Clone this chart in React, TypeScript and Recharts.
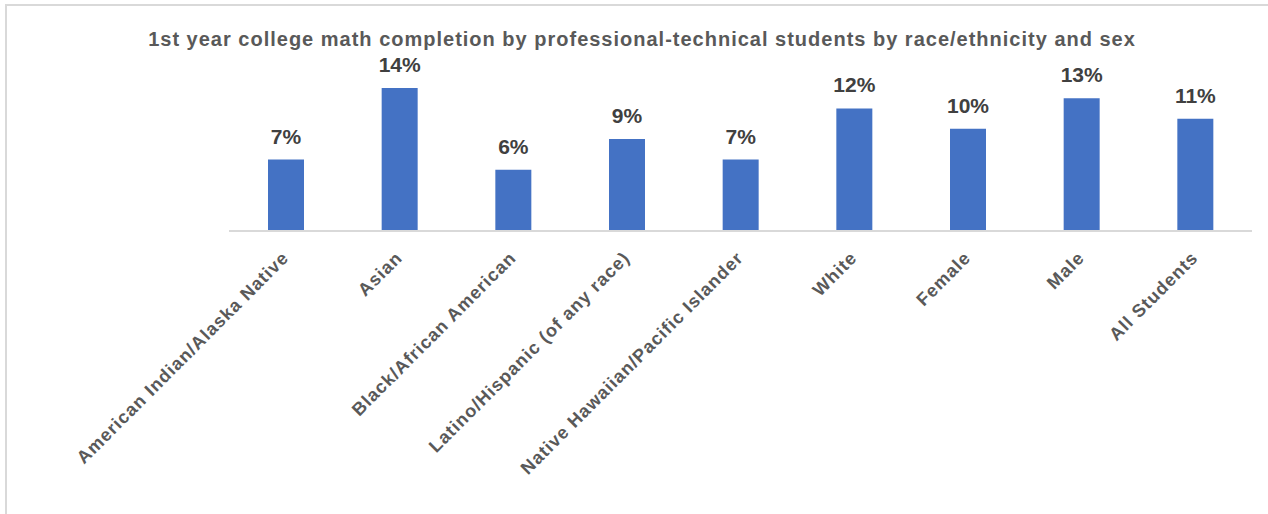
import React from 'react';
import { BarChart, Bar, XAxis, YAxis, LabelList } from 'recharts';

const categories = [
  'American Indian/Alaska Native',
  'Asian',
  'Black/African American',
  'Latino/Hispanic (of any race)',
  'Native Hawaiian/Pacific Islander',
  'White',
  'Female',
  'Male',
  'All Students',
];
const completion = [7, 14, 6, 9, 7, 12, 10, 13, 11];
const titleText =
  '1st year college math completion by professional-technical students by race/ethnicity and sex';

const data = categories.map((c, i) => ({ name: c, value: completion[i] }));

const FONT = '"Liberation Sans", Arial, sans-serif';

const Tick = (props: any) => {
  const { x, y, payload } = props;
  return (
    <g transform={`translate(${x + 4},${y + 20})`}>
      <text
        transform="rotate(-45)"
        textAnchor="end"
        fill="#595959"
        fontFamily={FONT}
        fontWeight="bold"
        fontSize={18}
        letterSpacing={1}
      >
        {payload.value}
      </text>
    </g>
  );
};

export default function App() {
  return (
    <div style={{ position: 'absolute', left: 0, top: 0, width: 1268, height: 514, overflow: 'hidden', background: '#fff' }}>
      <div
        style={{
          position: 'absolute',
          left: 5,
          top: 4,
          width: 1400,
          height: 700,
          border: '2px solid #d9d9d9',
        }}
      />
      <div
        style={{
          position: 'absolute',
          left: 0,
          top: 28,
          width: 1284,
          textAlign: 'center',
          fontFamily: FONT,
          fontWeight: 'bold',
          fontSize: 20,
          letterSpacing: 1,
          color: '#595959',
          whiteSpace: 'nowrap',
        }}
      >
        {titleText}
      </div>
      <div style={{ position: 'absolute', left: 0, top: 0 }}>
        <BarChart
          width={1268}
          height={514}
          data={data}
          margin={{ top: 88, right: 16, bottom: 0, left: 229 }}
          barSize={36}
        >
          <XAxis
            dataKey="name"
            interval={0}
            tick={<Tick />}
            tickLine={false}
            axisLine={{ stroke: '#d9d9d9', strokeWidth: 2 }}
            height={283}
          />
          <YAxis hide domain={[0, 14]} />
          <Bar dataKey="value" fill="#4472C4" isAnimationActive={false}>
            <LabelList
              dataKey="value"
              position="top"
              offset={16}
              formatter={(v: any) => `${v}%`}
              fill="#404040"
              fontFamily={FONT}
              fontWeight="bold"
              fontSize={21}
            />
          </Bar>
        </BarChart>
      </div>
    </div>
  );
}
